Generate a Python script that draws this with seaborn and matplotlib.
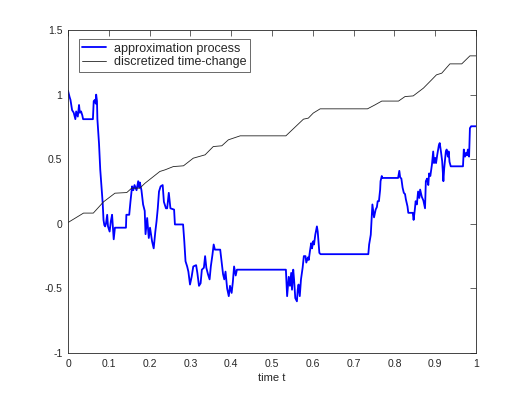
import matplotlib
matplotlib.use('Agg')
import matplotlib.pyplot as plt
import seaborn as sns
import pandas as pd

# approximation process (blue)
t_approx = [0.0, 0.004, 0.006, 0.01, 0.014, 0.018, 0.02, 0.024, 0.027, 0.029, 0.032, 0.035, 0.037,
            0.061, 0.063, 0.066, 0.068, 0.069, 0.071, 0.072, 0.076, 0.079, 0.083, 0.085, 0.087, 0.089,
            0.091, 0.093, 0.096, 0.098, 0.102, 0.105, 0.108, 0.111, 0.112, 0.115, 0.142, 0.143, 0.150,
            0.153, 0.157, 0.160, 0.163, 0.168, 0.172, 0.175, 0.176, 0.180, 0.184, 0.188, 0.190, 0.194,
            0.198, 0.201, 0.206, 0.210, 0.214, 0.217, 0.220, 0.223, 0.227, 0.232, 0.235, 0.240, 0.243,
            0.247, 0.251, 0.260, 0.262, 0.282, 0.285, 0.288, 0.292, 0.295, 0.299, 0.303, 0.307, 0.314,
            0.317, 0.321, 0.325, 0.328, 0.333, 0.336, 0.339, 0.343, 0.347, 0.350, 0.354, 0.357, 0.360,
            0.373, 0.376, 0.380, 0.383, 0.386, 0.390, 0.394, 0.397, 0.401, 0.404, 0.407, 0.411, 0.414,
            0.534, 0.535, 0.537, 0.541, 0.544, 0.547, 0.549, 0.552, 0.554, 0.557, 0.561, 0.563, 0.565,
            0.568, 0.571, 0.575, 0.578, 0.582, 0.584, 0.588, 0.590, 0.593, 0.596, 0.598, 0.601, 0.603,
            0.606, 0.610, 0.612, 0.616, 0.619, 0.736, 0.738, 0.742, 0.744, 0.746, 0.750, 0.754, 0.757,
            0.759, 0.762, 0.765, 0.766, 0.769, 0.770, 0.809, 0.812, 0.814, 0.817, 0.820, 0.823, 0.826,
            0.828, 0.832, 0.834, 0.845, 0.847, 0.850, 0.852, 0.855, 0.858, 0.861, 0.863, 0.867, 0.871,
            0.875, 0.877, 0.880, 0.883, 0.885, 0.888, 0.892, 0.895, 0.897, 0.900, 0.902, 0.905, 0.909,
            0.911, 0.914, 0.917, 0.920, 0.922, 0.926, 0.928, 0.931, 0.933, 0.935, 0.938, 0.968, 0.970,
            0.973, 0.976, 0.978, 0.980, 0.983, 0.985, 0.988, 1.0]
v_approx = [1.03, 0.98, 0.96, 0.88, 0.86, 0.81, 0.87, 0.83, 0.92, 0.86, 0.87, 0.84, 0.81,
            0.81, 0.95, 0.96, 0.93, 1.0, 0.95, 0.81, 0.62, 0.42, 0.25, 0.16, 0.03, -0.01,
            -0.02, 0.0, 0.07, -0.02, -0.06, 0.02, 0.07, -0.07, -0.12, -0.03, -0.03, 0.07, 0.07,
            0.17, 0.29, 0.26, 0.30, 0.26, 0.33, 0.28, 0.32, 0.26, 0.15, 0.10, -0.08, 0.045,
            -0.11, -0.03, -0.135, -0.19, -0.06, 0.02, 0.12, 0.25, 0.29, 0.30, 0.17, 0.12, 0.12,
            0.24, 0.12, 0.11, -0.005, -0.005, -0.135, -0.29, -0.33, -0.37, -0.47, -0.41, -0.33, -0.32,
            -0.38, -0.48, -0.46, -0.355, -0.34, -0.25, -0.34, -0.39, -0.43, -0.33, -0.24, -0.16, -0.20,
            -0.20, -0.28, -0.39, -0.43, -0.37, -0.50, -0.56, -0.48, -0.535, -0.45, -0.33, -0.40, -0.355,
            -0.355, -0.43, -0.56, -0.41, -0.48, -0.38, -0.51, -0.355, -0.43, -0.575, -0.60, -0.51, -0.47,
            -0.56, -0.43, -0.34, -0.25, -0.25, -0.30, -0.26, -0.28, -0.21, -0.15, -0.19, -0.135, -0.16,
            -0.085, -0.02, -0.06, -0.225, -0.235, -0.235, -0.16, -0.085, 0.03, 0.15, 0.05, 0.11, 0.13,
            0.175, 0.175, 0.265, 0.33, 0.37, 0.355, 0.355, 0.41, 0.36, 0.35, 0.28, 0.24, 0.23,
            0.19, 0.135, 0.085, 0.085, 0.03, 0.11, 0.175, 0.15, 0.25, 0.20, 0.265, 0.21, 0.18,
            0.12, 0.33, 0.35, 0.30, 0.39, 0.37, 0.46, 0.56, 0.47, 0.51, 0.47, 0.535, 0.61,
            0.625, 0.56, 0.485, 0.33, 0.43, 0.56, 0.575, 0.52, 0.56, 0.48, 0.445, 0.445, 0.575,
            0.52, 0.55, 0.53, 0.575, 0.52, 0.74, 0.755, 0.755]

# discretized time-change (black)
t_change = [0.0, 0.038, 0.062, 0.087, 0.115, 0.144, 0.156, 0.176, 0.189, 0.225, 0.238, 0.258,
            0.283, 0.307, 0.336, 0.356, 0.377, 0.393, 0.422, 0.534, 0.577, 0.589, 0.601, 0.618,
            0.734, 0.752, 0.769, 0.81, 0.826, 0.846, 0.871, 0.891, 0.903, 0.916, 0.936, 0.965,
            0.985, 1.0]
v_change = [0.01, 0.083, 0.083, 0.17, 0.237, 0.242, 0.276, 0.276, 0.315, 0.405, 0.418, 0.443,
            0.449, 0.508, 0.534, 0.598, 0.604, 0.65, 0.681, 0.681, 0.81, 0.818, 0.857, 0.89,
            0.89, 0.92, 0.95, 0.95, 0.985, 0.99, 1.05, 1.114, 1.153, 1.166, 1.238, 1.238,
            1.3, 1.3]

x_ticks = [0, 0.1, 0.2, 0.3, 0.4, 0.5, 0.6, 0.7, 0.8, 0.9, 1]
x_labels = ['0', '0.1', '0.2', '0.3', '0.4', '0.5', '0.6', '0.7', '0.8', '0.9', '1']
y_ticks = [-1, -0.5, 0, 0.5, 1, 1.5]
y_labels = ['-1', '-0.5', '0', '0.5', '1', '1.5']

sns.set_style('white')
plt.rcParams['font.family'] = ['Liberation Sans', 'DejaVu Sans']
plt.rcParams['xtick.direction'] = 'in'
plt.rcParams['ytick.direction'] = 'in'

df_a = pd.DataFrame({'t': t_approx, 'v': v_approx})
df_c = pd.DataFrame({'t': t_change, 'v': v_change})

fig = plt.figure(figsize=(5.26, 3.95), dpi=100)
ax = fig.add_axes([0.1293, 0.1063, 0.7757, 0.8177])

sns.lineplot(data=df_a, x='t', y='v', ax=ax, color='#0000ff', linewidth=1.3,
             estimator=None, sort=False, label='approximation process')
sns.lineplot(data=df_c, x='t', y='v', ax=ax, color='#222222', linewidth=0.6,
             estimator=None, sort=False, label='discretized time-change')

ax.set_xlim(0, 1)
ax.set_ylim(-1, 1.5)
ax.set_xticks(x_ticks)
ax.set_xticklabels(x_labels)
ax.set_yticks(y_ticks)
ax.set_yticklabels(y_labels)
ax.tick_params(axis='both', which='both', labelsize=7.5, length=4, width=0.5,
               top=True, right=True, colors='#262626', pad=4)
for s in ax.spines.values():
    s.set_linewidth(0.6)
    s.set_color('#262626')
ax.set_xlabel('time t', fontsize=8, color='#262626', labelpad=3)
ax.set_ylabel('')

leg = ax.legend(loc='upper left', fontsize=9, frameon=True, fancybox=False,
                handlelength=1.9, borderpad=0.3, labelspacing=0.1,
                bbox_to_anchor=(0.02, 0.98), borderaxespad=0.2, handletextpad=0.6)
leg.get_frame().set_edgecolor('#262626')
leg.get_frame().set_linewidth(0.6)

fig.savefig('out.png', dpi=100)
